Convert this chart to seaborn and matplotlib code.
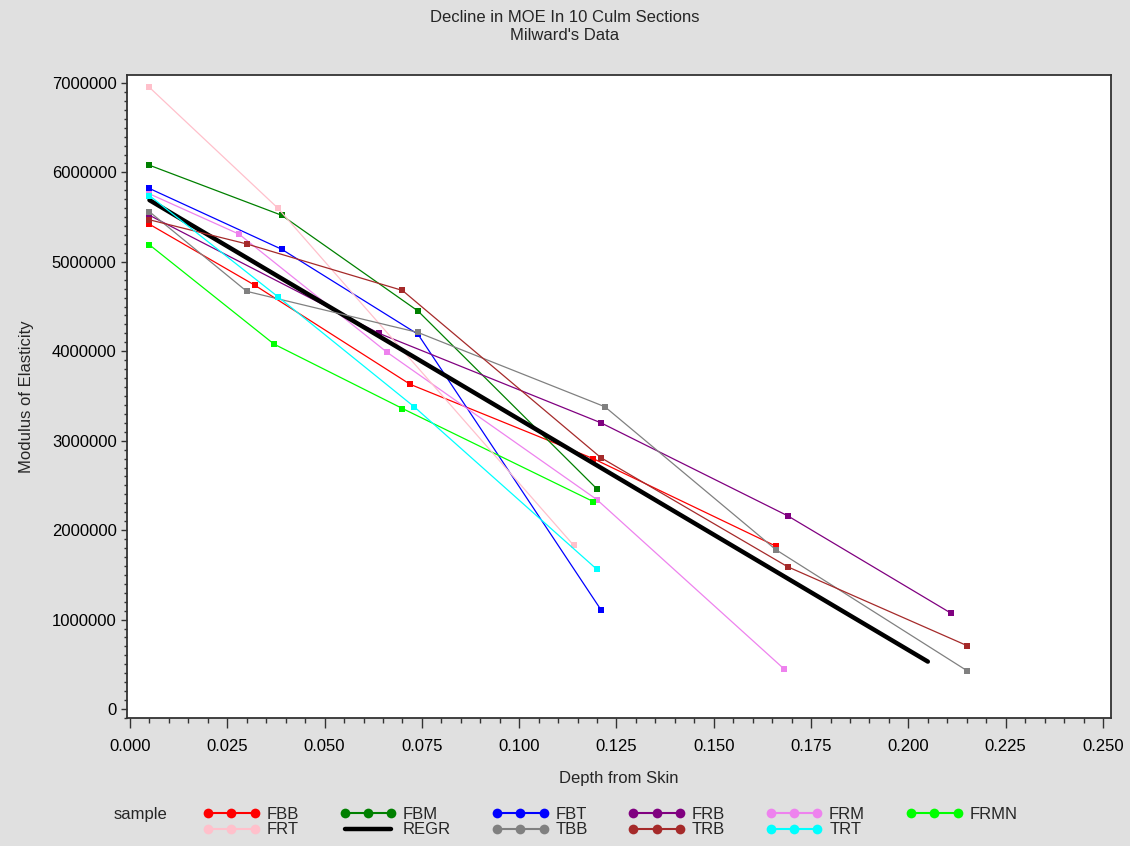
import numpy as np
import pandas as pd
import matplotlib
matplotlib.use('Agg')
import matplotlib.pyplot as plt
import matplotlib.ticker as mticker
from matplotlib.lines import Line2D
from matplotlib import font_manager
import seaborn as sns

# sample sections, depth from skin and modulus of elasticity
samples = ['FBB', 'FBM', 'FBT', 'FRB', 'FRM', 'FRMN', 'FRT', 'REGR', 'TBB', 'TRB', 'TRT']

fbb_depth = [0.005, 0.032, 0.072, 0.119, 0.166]
fbb_moe = [5420000, 4740000, 3630000, 2800000, 1820000]
fbm_depth = [0.005, 0.039, 0.074, 0.120]
fbm_moe = [6080000, 5520000, 4450000, 2460000]
fbt_depth = [0.005, 0.039, 0.074, 0.121]
fbt_moe = [5820000, 5140000, 4190000, 1110000]
frb_depth = [0.005, 0.064, 0.121, 0.169, 0.211]
frb_moe = [5520000, 4200000, 3200000, 2160000, 1070000]
frm_depth = [0.005, 0.028, 0.066, 0.120, 0.168]
frm_moe = [5760000, 5310000, 3990000, 2340000, 450000]
frmn_depth = [0.005, 0.037, 0.070, 0.119]
frmn_moe = [5190000, 4080000, 3360000, 2320000]
frt_depth = [0.005, 0.038, 0.114]
frt_moe = [6950000, 5600000, 1830000]
regr_depth = [0.005, 0.205]
regr_moe = [5690000, 530000]
tbb_depth = [0.005, 0.030, 0.074, 0.122, 0.166, 0.215]
tbb_moe = [5560000, 4670000, 4210000, 3380000, 1780000, 430000]
trb_depth = [0.005, 0.030, 0.070, 0.121, 0.169, 0.215]
trb_moe = [5470000, 5200000, 4680000, 2810000, 1590000, 710000]
trt_depth = [0.005, 0.038, 0.073, 0.120]
trt_moe = [5740000, 4610000, 3380000, 1560000]

colors = {'FBB': '#FF0000', 'FBM': '#008000', 'FBT': '#0000FF', 'FRB': '#800080',
          'FRM': '#EE82EE', 'FRMN': '#00FF00', 'FRT': '#FFC0CB', 'REGR': '#000000',
          'TBB': '#808080', 'TRB': '#A52A2A', 'TRT': '#00FFFF'}

series = {
    'FBB': (fbb_depth, fbb_moe), 'FBM': (fbm_depth, fbm_moe), 'FBT': (fbt_depth, fbt_moe),
    'FRB': (frb_depth, frb_moe), 'FRM': (frm_depth, frm_moe), 'FRMN': (frmn_depth, frmn_moe),
    'FRT': (frt_depth, frt_moe), 'REGR': (regr_depth, regr_moe), 'TBB': (tbb_depth, tbb_moe),
    'TRB': (trb_depth, trb_moe), 'TRT': (trt_depth, trt_moe),
}

rows = []
for name, (d, m) in series.items():
    for xv, yv in zip(d, m):
        rows.append({'sample': name, 'depth': xv, 'moe': yv})
df = pd.DataFrame(rows)

sns.set_style('ticks')
plt.rcParams['font.family'] = ['Liberation Sans', 'DejaVu Sans']

names = [f.name for f in font_manager.fontManager.ttflist]
title_font = 'Liberation Sans Narrow' if 'Liberation Sans Narrow' in names else 'Liberation Sans'

fig = plt.figure(figsize=(11.3, 8.46), dpi=100, facecolor='#E0E0E0')
ax = fig.add_axes([127 / 1130, 1 - 718 / 846, (1111 - 127) / 1130, (718 - 75) / 846])
ax.set_facecolor('white')

for name in samples:
    sub = df[df['sample'] == name]
    if name == 'REGR':
        sns.lineplot(data=sub, x='depth', y='moe', color=colors[name], linewidth=3.2,
                     estimator=None, sort=False, ax=ax, legend=False)
    else:
        sns.lineplot(data=sub, x='depth', y='moe', color=colors[name], linewidth=0.9,
                     marker='s', markersize=4.5, markeredgewidth=0, estimator=None,
                     sort=False, ax=ax, legend=False)

ax.set_xlim(-0.00077, 0.25206)
ax.set_ylim(-100600, 7089000)
ax.xaxis.set_major_locator(mticker.MultipleLocator(0.025))
ax.xaxis.set_minor_locator(mticker.MultipleLocator(0.005))
ax.xaxis.set_major_formatter(mticker.FormatStrFormatter('%.3f'))
ax.yaxis.set_major_locator(mticker.MultipleLocator(1000000))
ax.yaxis.set_minor_locator(mticker.MultipleLocator(100000))
ax.yaxis.set_major_formatter(mticker.FuncFormatter(lambda v, p: '%d' % round(v)))

ax.tick_params(axis='x', which='major', length=7, width=1, labelsize=12, pad=8, colors='#333333', labelcolor='black')
ax.tick_params(axis='x', which='minor', length=3.6, width=1, colors='#333333')
ax.tick_params(axis='y', which='major', length=4.5, width=1, labelsize=12, pad=3, colors='#333333', labelcolor='black')
ax.tick_params(axis='y', which='minor', length=2.5, width=1, colors='#333333')

for side in ['left', 'bottom', 'top', 'right']:
    ax.spines[side].set_visible(True)
    ax.spines[side].set_color('#333333')
    ax.spines[side].set_linewidth(1.3)

ax.set_xlabel('Depth from Skin', fontsize=12, labelpad=12)
ax.set_ylabel('Modulus of Elasticity', fontsize=12, labelpad=13)

fig.text(0.5, 1 - 17 / 846, 'Decline in MOE In 10 Culm Sections', ha='center', va='center',
         fontsize=12, family=[title_font, 'DejaVu Sans'])
fig.text(0.5, 1 - 36 / 846, "Milward's Data", ha='center', va='center',
         fontsize=12, family=[title_font, 'DejaVu Sans'])

# legend, filled row by row like the original
legend_order = ['FBB', 'FRT', 'FBM', 'REGR', 'FBT', 'TBB', 'FRB', 'TRB', 'FRM', 'TRT', 'FRMN']
handles = []
for name in legend_order:
    if name == 'REGR':
        handles.append(Line2D([0], [0], color=colors[name], linewidth=3.2))
    else:
        handles.append(Line2D([0], [0], color=colors[name], linewidth=1.5, marker='o',
                              markersize=7, markeredgewidth=0))
fig.legend(handles, legend_order, loc='center left', bbox_to_anchor=(203 / 1130, 1 - 822 / 846),
           ncol=6, frameon=False, fontsize=12, handlelength=3.4, handletextpad=0.4,
           columnspacing=2.45, labelspacing=0.05, numpoints=3, borderpad=0, borderaxespad=0)
fig.text(140 / 1130, 1 - 814 / 846, 'sample', ha='center', va='center', fontsize=12)

fig.savefig('out.png', dpi=100, facecolor=fig.get_facecolor())
